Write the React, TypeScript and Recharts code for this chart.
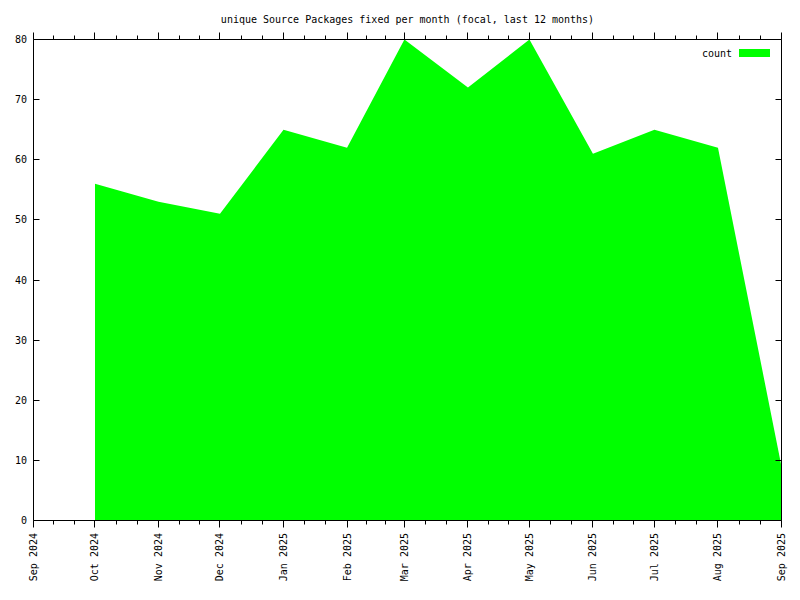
import { AreaChart, Area, XAxis, YAxis } from 'recharts';

const monthLabels = ['Sep 2024', 'Oct 2024', 'Nov 2024', 'Dec 2024', 'Jan 2025', 'Feb 2025', 'Mar 2025', 'Apr 2025', 'May 2025', 'Jun 2025', 'Jul 2025', 'Aug 2025', 'Sep 2025'];
// days since 1 Sep 2024 for each month start
const monthDays = [0, 30, 61, 91, 122, 153, 181, 212, 242, 273, 303, 334, 365];
// Oct 2024 .. Sep 2025
const counts = [56, 53, 51, 65, 62, 80, 72, 80, 61, 65, 62, 9];
const yTicks = [0, 10, 20, 30, 40, 50, 60, 70, 80];

const data = counts.map((c, i) => ({ day: monthDays[i + 1], count: c }));

// two minor ticks inside every month
const minorTicks = monthDays.slice(0, -1).flatMap((d, i) => {
    const n = monthDays[i + 1];
    return [d + (n - d) / 3, d + (2 * (n - d)) / 3];
});
const xTicks = [...monthDays, ...minorTicks].sort((a, b) => a - b);

const FONT = "'DejaVu Sans Mono', monospace";
const TOP = 39.5;
const BOTTOM = 520.5;
const LEFT = 33.5;
const RIGHT = 781.5;

const px = (v: number) => Math.floor(v) + 0.5;

const BottomTick = (props: any) => {
    const { x, payload } = props;
    const idx = monthDays.indexOf(payload.value);
    const major = idx >= 0;
    const cx = px(x);
    return (
        <g>
            <line x1={cx} x2={cx} y1={BOTTOM} y2={BOTTOM + (major ? 7 : 4)} stroke="#000" />
            {major && (
                <text x={cx} y={533} transform={`rotate(-90, ${cx}, 533)`} textAnchor="end" dy="0.35em"
                    fontFamily={FONT} fontSize={10} fill="#000">
                    {monthLabels[idx]}
                </text>
            )}
        </g>
    );
};

const TopTick = (props: any) => {
    const { x, payload } = props;
    const major = monthDays.includes(payload.value);
    const cx = px(x);
    return <line x1={cx} x2={cx} y1={TOP} y2={TOP - (major ? 7 : 4)} stroke="#000" />;
};

const LeftTick = (props: any) => {
    const { y, payload } = props;
    const cy = px(y);
    return (
        <g>
            <line x1={LEFT} x2={LEFT + 6} y1={cy} y2={cy} stroke="#000" />
            <text x={27} y={cy} textAnchor="end" dominantBaseline="central" fontFamily={FONT} fontSize={10} fill="#000">
                {payload.value}
            </text>
        </g>
    );
};

const RightTick = (props: any) => {
    const { y } = props;
    const cy = px(y);
    return <line x1={RIGHT} x2={RIGHT - 6} y1={cy} y2={cy} stroke="#000" />;
};

const App = () => {
    return (
        <div style={{ position: 'absolute', left: 0, top: 0, width: 800, height: 600, background: '#fff' }}>
            <div style={{ position: 'absolute', left: LEFT, width: RIGHT - LEFT, top: 14, textAlign: 'center', fontFamily: FONT, fontSize: 10, lineHeight: '12px', color: '#000' }}>
                unique Source Packages fixed per month (focal, last 12 months)
            </div>
            <AreaChart width={800} height={600} data={data} margin={{ top: 0, right: 0, bottom: 0, left: 0 }}>
                <Area type="linear" dataKey="count" stroke="none" fill="#00ff00" fillOpacity={1}
                    dot={false} activeDot={false} isAnimationActive={false} />
                {/* invisible copy so the mirror axes get a scale */}
                <Area xAxisId="top" yAxisId="right" type="linear" dataKey="count" stroke="none" fill="none"
                    dot={false} activeDot={false} isAnimationActive={false} legendType="none" />
                <XAxis dataKey="day" type="number" domain={[0, 365]} ticks={xTicks} interval={0} height={79.5}
                    allowDataOverflow axisLine={{ stroke: '#000' }} tickLine={false} tick={<BottomTick />} />
                <XAxis xAxisId="top" dataKey="day" orientation="top" type="number" domain={[0, 365]} ticks={xTicks} interval={0} height={39.5}
                    allowDataOverflow axisLine={{ stroke: '#000' }} tickLine={false} tick={<TopTick />} />
                <YAxis type="number" domain={[0, 80]} ticks={yTicks} interval={0} width={33.5}
                    axisLine={{ stroke: '#000' }} tickLine={false} tick={<LeftTick />} />
                <YAxis yAxisId="right" orientation="right" type="number" domain={[0, 80]} ticks={yTicks} interval={0} width={18.5}
                    axisLine={{ stroke: '#000' }} tickLine={false} tick={<RightTick />} />
            </AreaChart>
            <div style={{ position: 'absolute', left: 640, width: 92, top: 48, textAlign: 'right', fontFamily: FONT, fontSize: 10, lineHeight: '12px', color: '#000' }}>
                count
            </div>
            <div style={{ position: 'absolute', left: 739, top: 49, width: 31, height: 8, background: '#00ff00' }} />
        </div>
    );
};

export default App;
